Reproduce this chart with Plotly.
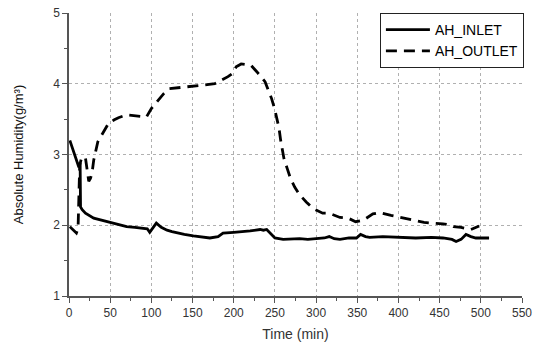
import plotly.graph_objects as go

# ---- data ----
inlet_t = [1, 5, 9, 12, 13.5, 14, 16, 20, 30, 40, 50, 60, 70, 80, 90, 95, 98, 102, 106,
           112, 119, 125, 131, 140, 151, 160, 171, 181, 187, 200, 211, 220, 232, 236, 240,
           245, 250, 260, 270, 280, 290, 300, 310, 316, 322, 329, 340, 349, 354, 360, 365,
           381, 401, 421, 440, 454, 465, 470, 476, 482, 488, 494, 502, 510]
inlet_v = [3.20, 3.07, 2.93, 2.82, 2.88, 2.26, 2.22, 2.17, 2.10, 2.07, 2.03, 2.00, 1.98,
           1.97, 1.96, 1.95, 1.90, 1.96, 2.03, 1.97, 1.93, 1.91, 1.89, 1.87, 1.85, 1.84,
           1.82, 1.84, 1.89, 1.90, 1.91, 1.92, 1.94, 1.93, 1.94, 1.88, 1.82, 1.80, 1.81,
           1.81, 1.80, 1.81, 1.82, 1.84, 1.81, 1.80, 1.82, 1.82, 1.87, 1.84, 1.83, 1.84,
           1.83, 1.82, 1.83, 1.82, 1.80, 1.77, 1.80, 1.87, 1.84, 1.82, 1.82, 1.82]

outlet_t = [1, 5, 9, 11, 12, 13, 15, 17, 20, 22, 24, 26, 28, 30, 32, 35, 41, 48, 55, 60,
            70, 82, 94, 100, 108, 115, 122, 130, 139, 147, 155, 165, 177, 185, 193, 199,
            203, 209, 214, 221, 228, 233, 238, 242, 246, 250, 253, 255, 257, 259, 261, 265,
            269, 274, 280, 288, 296, 308, 316, 329, 339, 348, 357, 369, 377, 391, 399, 411,
            419, 431, 442, 454, 464, 467, 476, 488, 498]
outlet_v = [1.98, 1.94, 1.89, 1.95, 2.40, 2.85, 2.94, 2.97, 2.95, 2.80, 2.62, 2.66, 2.74,
            2.92, 3.02, 3.18, 3.30, 3.44, 3.49, 3.52, 3.56, 3.55, 3.53, 3.65, 3.77, 3.86,
            3.93, 3.94, 3.95, 3.96, 3.98, 3.99, 4.00, 4.05, 4.10, 4.15, 4.24, 4.28, 4.27,
            4.26, 4.17, 4.10, 4.03, 3.91, 3.79, 3.63, 3.49, 3.37, 3.20, 3.09, 2.94, 2.80,
            2.66, 2.54, 2.43, 2.33, 2.24, 2.17, 2.17, 2.11, 2.10, 2.05, 2.07, 2.16, 2.18,
            2.14, 2.12, 2.08, 2.06, 2.04, 2.03, 2.02, 2.00, 1.98, 1.97, 1.94, 1.99]

x_ticks = [0, 50, 100, 150, 200, 250, 300, 350, 400, 450, 500, 550]
y_ticks = [1, 2, 3, 4, 5]

FONT = "Liberation Sans, Arial, sans-serif"

fig = go.Figure()
fig.add_trace(go.Scatter(x=inlet_t, y=inlet_v, mode="lines", name="AH_INLET",
                         line=dict(color="black", width=2.8)))
fig.add_trace(go.Scatter(x=outlet_t, y=outlet_v, mode="lines", name="AH_OUTLET",
                         line=dict(color="black", width=2.8, dash="11px,7px")))

axis_common = dict(
    showline=True, linecolor="#555555", linewidth=1.5,
    ticks="outside", ticklen=5, tickcolor="#555555", tickwidth=1,
    showgrid=True, gridcolor="#b0b0b0", gridwidth=1, griddash="dot",
    zeroline=False, mirror=False, automargin=False,
    tickfont=dict(family=FONT, size=12, color="#333333"),
)

fig.update_xaxes(
    range=[0, 550], tickvals=x_ticks,
    minor=dict(dtick=25, tick0=0, ticks="outside", ticklen=3, tickcolor="#555555", showgrid=False),
    title=dict(text="Time (min)", font=dict(family=FONT, size=14, color="#333333"), standoff=10),
    **axis_common,
)
fig.update_yaxes(
    range=[1, 5], tickvals=y_ticks,
    minor=dict(dtick=0.5, tick0=1, ticks="outside", ticklen=3, tickcolor="#555555", showgrid=False),
    title=dict(text="Absolute Humidity(g/m³)", font=dict(family=FONT, size=13, color="#111111"), standoff=27),
    **axis_common,
)

fig.update_layout(
    width=535, height=345,
    margin=dict(l=69, r=12, t=13, b=49),
    paper_bgcolor="white", plot_bgcolor="white",
    showlegend=True,
    legend=dict(x=1.002, y=1.0, xanchor="right", yanchor="top",
                bgcolor="white", bordercolor="#222222", borderwidth=1,
                font=dict(family=FONT, size=14, color="black"),
                itemwidth=44, tracegroupgap=0),
)

fig.write_html("out.html")
